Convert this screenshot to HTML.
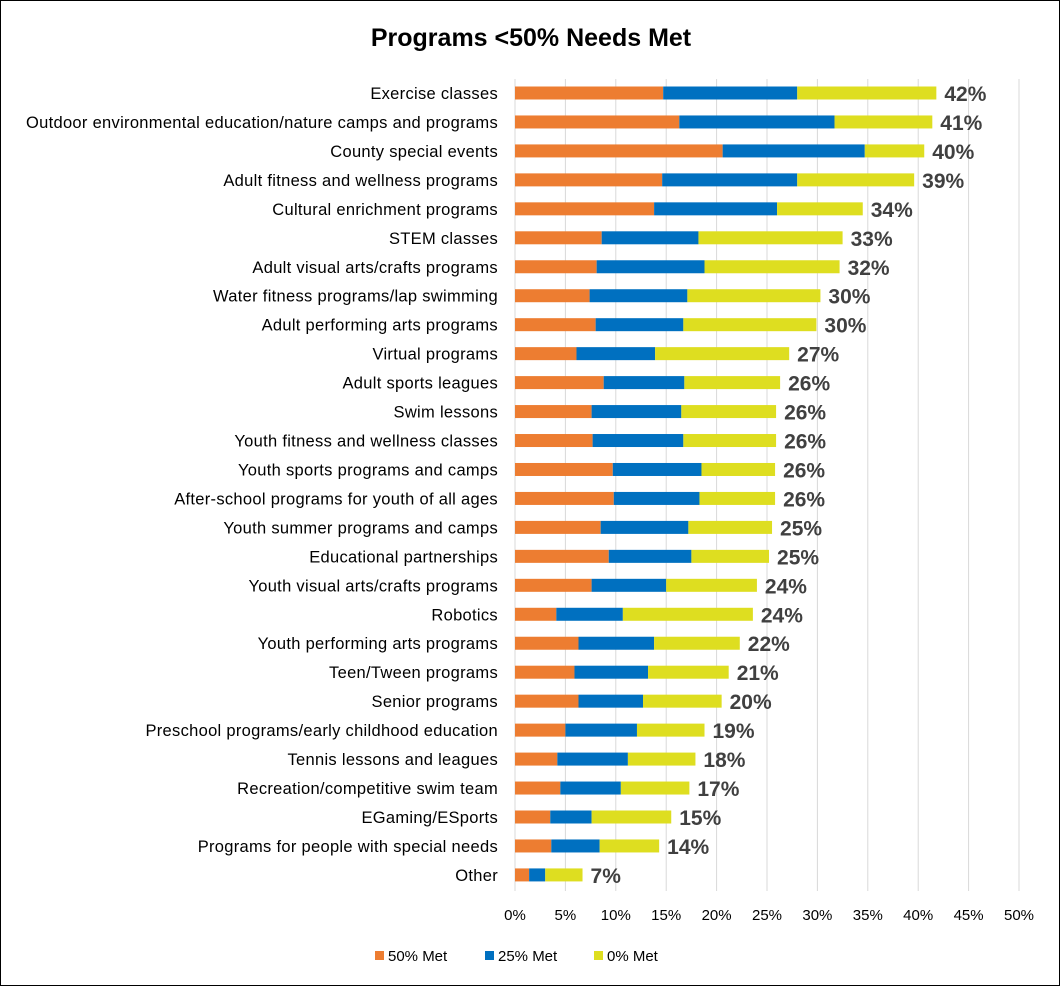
<!DOCTYPE html>
<html><head><meta charset="utf-8"><style>
body{margin:0;background:#fff;}
#c{position:relative;width:1058px;height:984px;border:1px solid #000;background:#fff;font-family:"Liberation Sans",sans-serif;}
</style></head><body>
<div id="c">
<svg id="s" width="1058" height="984"></svg>
</div>
<script>
const categories=["Exercise classes","Outdoor environmental education/nature camps and programs","County special events","Adult fitness and wellness programs","Cultural enrichment programs","STEM classes","Adult visual arts/crafts programs","Water fitness programs/lap swimming","Adult performing arts programs ","Virtual programs","Adult sports leagues","Swim lessons","Youth fitness and wellness classes","Youth sports programs and camps","After-school programs for youth of all ages","Youth summer programs and camps","Educational partnerships","Youth visual arts/crafts programs","Robotics","Youth performing arts programs","Teen/Tween programs","Senior programs","Preschool programs/early childhood education","Tennis lessons and leagues","Recreation/competitive swim team","EGaming/ESports","Programs for people with special needs","Other"];
const met50=[14.7,16.3,20.6,14.6,13.8,8.6,8.1,7.4,8.0,6.1,8.8,7.6,7.7,9.7,9.8,8.5,9.3,7.6,4.1,6.3,5.9,6.3,5.0,4.2,4.5,3.5,3.6,1.4];
const met25=[13.3,15.4,14.1,13.4,12.2,9.6,10.7,9.7,8.7,7.8,8.0,8.9,9.0,8.8,8.5,8.7,8.2,7.4,6.6,7.5,7.3,6.4,7.1,7.0,6.0,4.1,4.8,1.6];
const met0=[13.8,9.7,5.9,11.6,8.5,14.3,13.4,13.2,13.2,13.3,9.5,9.4,9.2,7.3,7.5,8.3,7.7,9.0,12.9,8.5,8.0,7.8,6.7,6.7,6.8,7.9,5.9,3.7];
const totalLabels=["42%","41%","40%","39%","34%","33%","32%","30%","30%","27%","26%","26%","26%","26%","26%","25%","25%","24%","24%","22%","21%","20%","19%","18%","17%","15%","14%","7%"];
const ticks=[0,5,10,15,20,25,30,35,40,45,50];
const series=[{name:"50% Met",vals:met50,color:"#ED7D31"},{name:"25% Met",vals:met25,color:"#0070C0"},{name:"0% Met",vals:met0,color:"#DEDE20"}];
const NS="http://www.w3.org/2000/svg",svg=document.getElementById('s');
const x0=514,pxPer=10.08,y0=92,step=28.96,bh=13;
const xs=v=>x0+v*pxPer, ys=i=>y0+i*step;
function el(t,a,p){const e=document.createElementNS(NS,t);for(const k in a)e.setAttribute(k,a[k]);(p||svg).appendChild(e);return e;}
let t=el('text',{x:530,y:45,'text-anchor':'middle','font-size':25,'font-weight':'bold',fill:'#000'});t.textContent="Programs <50% Needs Met";


ticks.forEach(v=>{
 const g=el('line',{x1:xs(v),x2:xs(v),y1:78,y2:890,stroke:'#D9D9D9','stroke-width':1});
 
 
 const tl=el('text',{x:xs(v),y:919,'text-anchor':'middle','font-size':15,fill:'#000'});tl.textContent=v+'%';
 
 
});
categories.forEach((c,i)=>{
 const y=ys(i);
 const l=el('text',{x:497,y:y+6,'text-anchor':'end','font-size':16.5,'letter-spacing':'0.3px',fill:'#000'});l.textContent=c;
 
 
 let acc=0;
 series.forEach(s=>{
  const r=el('rect',{x:xs(acc),y:y-bh/2,width:s.vals[i]*pxPer,height:bh,fill:s.color});
  
  
  acc+=s.vals[i];
 });
 const v=el('text',{x:xs(acc)+8,y:y+8,'font-size':21,'font-weight':'bold',fill:'#404040'});v.textContent=totalLabels[i];
 
 
});
let lx=374;
series.forEach(s=>{
 const r=el('rect',{x:lx,y:950,width:9,height:9,fill:s.color});
 
 
 const tx=el('text',{x:lx+13,y:960,'font-size':15,fill:'#000'});tx.textContent=s.name;
 
 
 lx+=s.name==="50% Met"?110:109;
});
</script>
</body></html>
